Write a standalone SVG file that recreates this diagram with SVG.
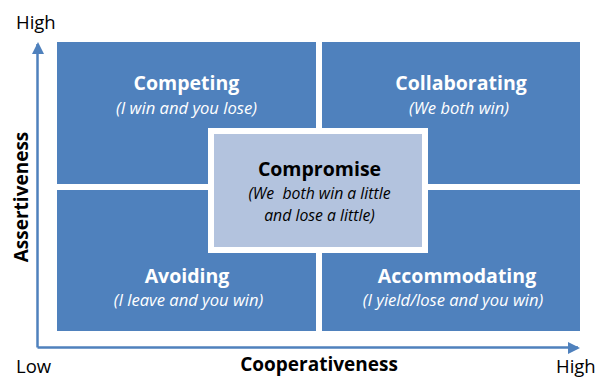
<svg xmlns="http://www.w3.org/2000/svg" width="600" height="379" viewBox="0 0 600 379">
<defs>
<style>
.q{fill:#4F81BD}
.t{font-family:"Open Sans","Noto Sans",sans-serif;text-anchor:middle}
.h{font-size:19.5px;font-weight:bold;fill:#fff}
.s{font-size:16.6px;font-style:italic;fill:#fff}
.hd{font-size:19.5px;font-weight:bold;fill:#000}
.sd{font-size:15.8px;font-style:italic;fill:#000}
.ax{font-family:"Open Sans","Noto Sans",sans-serif;font-size:18.5px;fill:#000}
.axb{font-size:19px;font-weight:bold;fill:#000}
.axl{stroke:#4F81BD;stroke-width:2.5;fill:none}
</style>
</defs>
<rect width="600" height="379" fill="#fff"/>
<g id="connectors">
<path class="axl" d="M37.5,347.5 L37.5,44"/>
<path class="axl" d="M37.5,347.5 L578,347.5"/>
<path d="M32,54 L38,42 L44,54 Z" fill="#4F81BD"/>
<path d="M568,342 L580,348 L568,354 Z" fill="#4F81BD"/>
</g>
<g id="competing">
<rect class="q" x="57" y="42" width="259" height="142"/>
<text class="t h" x="186.5" y="90">Competing</text>
<text class="t s" x="186.5" y="114">(I win and you lose)</text>
</g>
<g id="collaborating">
<rect class="q" x="322" y="42" width="258" height="142"/>
<text class="t h" x="461" y="90">Collaborating</text>
<text class="t s" x="459" y="114">(We both win)</text>
</g>
<g id="avoiding">
<rect class="q" x="57" y="190" width="259" height="141"/>
<text class="t h" x="187" y="283">Avoiding</text>
<text class="t s" x="188.5" y="306">(I leave and you win)</text>
</g>
<g id="accommodating">
<rect class="q" x="322" y="190" width="258" height="141"/>
<text class="t h" x="457" y="283">Accommodating</text>
<text class="t s" x="453" y="306">(I yield/lose and you win)</text>
</g>
<g id="compromise">
<rect x="211" y="131" width="214" height="119" fill="#B3C3DE" stroke="#fff" stroke-width="6"/>
<text class="t hd" x="319.5" y="176">Compromise</text>
<text class="t sd" x="319.5" y="199" xml:space="preserve">(We  both win a little</text>
<text class="t sd" x="319.5" y="220.5">and lose a little)</text>
</g>
<g id="axis-labels">
<text class="ax" x="16" y="29">High</text>
<text class="ax" x="16" y="373">Low</text>
<text class="ax" x="556" y="373">High</text>
<text class="t axb" x="319" y="371">Cooperativeness</text>
<text class="t axb" transform="translate(28,197) rotate(-90)">Assertiveness</text>
</g>
</svg>
